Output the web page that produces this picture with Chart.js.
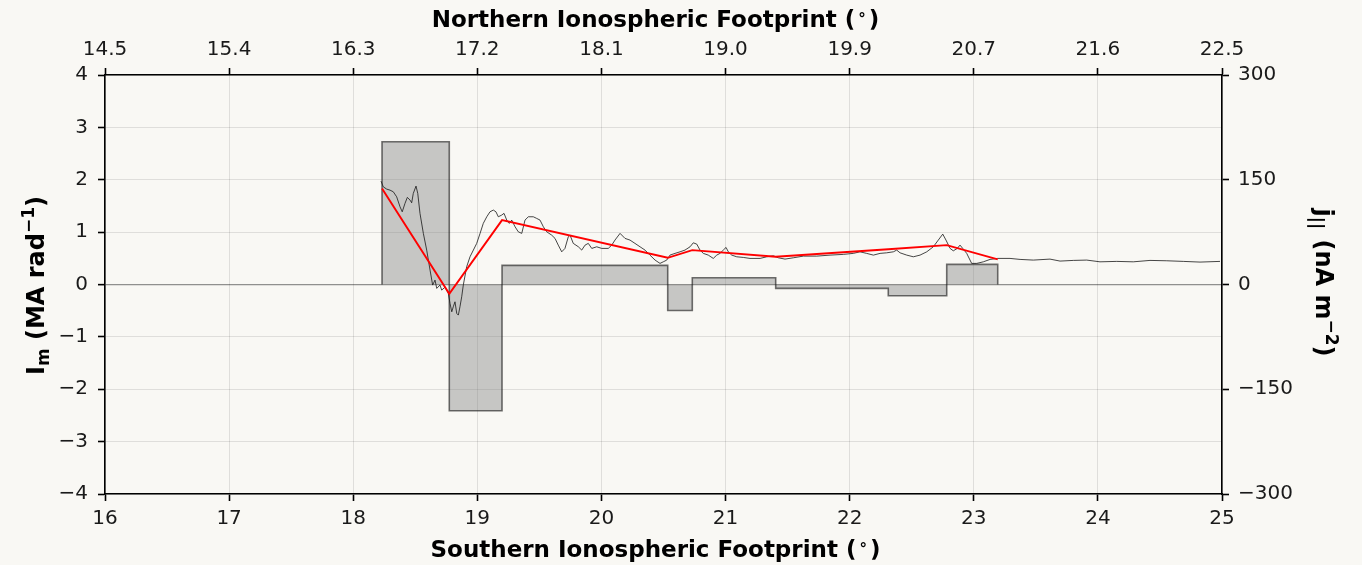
<!DOCTYPE html>
<html>
<head>
<meta charset="utf-8">
<script src="https://cdn.jsdelivr.net/npm/chart.js@4.4.1/dist/chart.umd.min.js"></script>
<style>
  html, body { margin: 0; padding: 0; background: #f9f8f4; }
  canvas { display: block; }
</style>
</head>
<body>
<canvas id="c" width="1362" height="565"></canvas>
<script>
// Southern footprint latitude (deg) of the magnetometer-derived current trace
const southDeg = [
  18.224,18.242,18.270,18.296,18.323,18.350,18.377,18.395,18.417,18.436,
  18.458,18.471,18.484,18.506,18.520,18.538,18.565,18.592,18.619,18.640,
  18.659,18.673,18.699,18.713,18.740,18.766,18.780,18.794,18.806,18.820,
  18.834,18.847,18.860,18.874,18.887,18.914,18.941,18.995,19.022,19.048,
  19.076,19.102,19.129,19.150,19.169,19.196,19.215,19.237,19.258,19.277,
  19.304,19.330,19.358,19.384,19.411,19.451,19.478,19.505,19.532,19.559,
  19.599,19.626,19.652,19.680,19.706,19.733,19.747,19.773,19.814,19.841,
  19.868,19.894,19.922,19.962,20.002,20.055,20.083,20.109,20.150,20.190,
  20.230,20.270,20.311,20.351,20.391,20.432,20.472,20.498,20.526,20.552,
  20.593,20.633,20.673,20.714,20.740,20.768,20.794,20.821,20.861,20.901,
  20.929,20.955,20.982,21.004,21.022,21.050,21.090,21.143,21.197,21.278,
  21.332,21.385,21.425,21.479,21.546,21.627,21.735,21.842,21.949,22.029,
  22.083,22.137,22.191,22.245,22.298,22.352,22.379,22.406,22.460,22.513,
  22.567,22.621,22.674,22.714,22.750,22.776,22.809,22.835,22.867,22.889,
  22.911,22.943,22.983,23.024,23.077,23.131,23.193,23.292,23.373,23.480,
  23.614,23.695,23.802,23.910,24.017,24.152,24.285,24.420,24.555,24.688,
  24.823,24.984
];
// Azimuthal current I_m (MA rad^-1) along the trace
const imTrace = [
  1.974,1.865,1.821,1.802,1.770,1.674,1.484,1.388,1.548,1.663,
  1.611,1.560,1.739,1.879,1.739,1.358,0.976,0.657,0.275,-0.011,
  0.084,-0.074,-0.011,-0.107,-0.050,-0.170,-0.361,-0.521,-0.426,-0.330,
  -0.552,-0.584,-0.426,-0.235,-0.011,0.338,0.529,0.785,0.976,1.167,
  1.293,1.388,1.421,1.388,1.293,1.325,1.358,1.230,1.167,1.230,
  1.102,1.006,0.976,1.230,1.293,1.293,1.262,1.230,1.102,1.006,
  0.943,0.880,0.752,0.624,0.689,0.911,0.943,0.785,0.720,0.657,
  0.752,0.785,0.689,0.720,0.689,0.689,0.752,0.848,0.976,0.880,
  0.848,0.785,0.720,0.657,0.561,0.466,0.403,0.433,0.466,0.561,
  0.594,0.624,0.657,0.720,0.796,0.771,0.657,0.594,0.561,0.498,
  0.561,0.594,0.657,0.708,0.624,0.561,0.529,0.517,0.498,0.498,
  0.529,0.548,0.510,0.485,0.510,0.542,0.542,0.561,0.575,0.594,
  0.624,0.594,0.561,0.594,0.605,0.624,0.657,0.605,0.561,0.529,
  0.561,0.624,0.720,0.848,0.962,0.848,0.689,0.643,0.689,0.752,
  0.689,0.594,0.403,0.403,0.433,0.479,0.498,0.498,0.479,0.466,
  0.485,0.447,0.460,0.466,0.433,0.441,0.433,0.460,0.453,0.441,
  0.428,0.441
];
// Segment boundaries (deg) of the piecewise current model
const barEdges = [18.232, 18.774, 19.199, 20.534, 20.732, 21.404, 22.311, 22.782, 23.193];
// Field-aligned current density j_|| (nA m^-2) in each segment
const jPar = [204.4, -180.8, 27.4, -37.2, 9.6, -5.6, -16.2, 28.8];
// Model I_m (MA rad^-1) at each segment boundary
const imAtEdges = [1.835, -0.178, 1.23, 0.51, 0.657, 0.529, 0.674, 0.752, 0.479];
// Northern footprint labels shown along the top axis
const northTickLabels = ['14.5','15.4','16.3','17.2','18.1','19.0','19.9','20.7','21.6','22.5'];

const FONT = 'DejaVu Sans';
const TICK_FONT = { family: FONT, size: 20 };
const TICK_COLOR = '#1a1a1a';
const GRID = 'rgba(0,0,0,0.1)';
const minusFmt = v => (v < 0 ? '\u2212' + Math.abs(v) : String(v));

// stair outline of the j_|| segments, closed down to zero at both ends
const stairs = [{ x: barEdges[0], y: 0 }];
jPar.forEach((v, i) => {
  stairs.push({ x: barEdges[i], y: v });
  stairs.push({ x: barEdges[i + 1], y: v });
});
stairs.push({ x: barEdges[barEdges.length - 1], y: 0 });

const trace = southDeg.map((x, i) => ({ x, y: imTrace[i] }));
const model = barEdges.map((x, i) => ({ x, y: imAtEdges[i] }));

// figure background
const bgPlugin = {
  id: 'bg',
  beforeDraw(chart) {
    const c = chart.ctx;
    c.save();
    c.fillStyle = '#f9f8f4';
    c.fillRect(0, 0, chart.width, chart.height);
    c.restore();
  }
};

// axis titles drawn as runs of text so sub/superscripts can be placed
function richTitle(ctx, segs, bx, cy, rot) {
  ctx.save();
  ctx.translate(bx, cy);
  ctx.rotate(rot);
  ctx.textBaseline = 'alphabetic';
  ctx.fillStyle = '#000';
  let total = 0;
  segs.forEach(s => { ctx.font = s.f; s.w = ctx.measureText(s.t).width + (s.gap || 0); total += s.w; });
  let x = -total / 2;
  segs.forEach(s => { ctx.font = s.f; ctx.fillText(s.t, x, s.dy || 0); x += s.w; });
  ctx.restore();
}
const titlePlugin = {
  id: 'axisTitles',
  afterDraw(chart) {
    const ctx = chart.ctx;
    const ca = chart.chartArea;
    const cy = (ca.top + ca.bottom) / 2;
    const cx = (ca.left + ca.right) / 2 - 8;
    const big = 'bold 24px "' + FONT + '"';
    const small = 'bold 17px "' + FONT + '"';
    const xt = 'bold 23px "' + FONT + '"';
    const xs = 'bold 15px "' + FONT + '"';
    richTitle(ctx, [
      { t: 'Northern Ionospheric Footprint (', f: xt, gap: 3 },
      { t: '\u00b0', f: xs, dy: -3, gap: 3 },
      { t: ')', f: xt }
    ], cx, 27, 0);
    richTitle(ctx, [
      { t: 'Southern Ionospheric Footprint (', f: xt, gap: 3 },
      { t: '\u00b0', f: xs, dy: -3, gap: 3 },
      { t: ')', f: xt }
    ], cx, 557, 0);
    richTitle(ctx, [
      { t: 'I', f: big },
      { t: 'm', f: small, dy: 5 },
      { t: ' (MA rad', f: big },
      { t: '\u22121', f: small, dy: -10 },
      { t: ')', f: big }
    ], 44, cy + 1, -Math.PI / 2);
    richTitle(ctx, [
      { t: 'j', f: big },
      { t: '||', f: small, dy: 5, gap: 2 },
      { t: ' (nA m', f: big },
      { t: '\u22122', f: small, dy: -10 },
      { t: ')', f: big }
    ], 1316, cy - 2, Math.PI / 2);
  }
};

const axisCommon = {
  border: { display: true, color: '#000', width: 1.6 },
};

new Chart(document.getElementById('c'), {
  type: 'line',
  data: {
    datasets: [
      {
        label: 'model I_m',
        data: model,
        xAxisID: 'x', yAxisID: 'y',
        borderColor: '#ff0000', borderWidth: 1.9,
        pointRadius: 0, tension: 0, fill: false, order: 0
      },
      {
        label: 'I_m',
        data: trace,
        xAxisID: 'x', yAxisID: 'y',
        borderColor: 'rgba(25,25,25,0.8)', borderWidth: 1,
        pointRadius: 0, tension: 0, fill: false, order: 1
      },
      {
        label: 'j_par',
        data: stairs,
        xAxisID: 'x', yAxisID: 'y2',
        borderColor: 'rgba(20,20,20,0.6)', borderWidth: 1.6,
        backgroundColor: 'rgba(128,128,128,0.42)',
        pointRadius: 0, tension: 0, fill: 'origin', order: 2
      }
    ]
  },
  options: {
    responsive: false,
    animation: false,
    events: [],
    layout: { padding: 0 },
    plugins: { legend: { display: false }, tooltip: { enabled: false } },
    scales: {
      x: {
        ...axisCommon,
        type: 'linear', position: 'bottom', min: 16, max: 25,
        ticks: { stepSize: 1, font: TICK_FONT, color: TICK_COLOR, padding: 6, maxRotation: 0, autoSkip: false },
        grid: { color: GRID, lineWidth: 1, tickColor: '#000', tickLength: 7, tickWidth: 1.6 },
        afterFit(s) { s.height = 71; }
      },
      x2: {
        ...axisCommon,
        type: 'linear', position: 'top', min: 16, max: 25,
        ticks: { stepSize: 1, font: TICK_FONT, color: TICK_COLOR, padding: 6, maxRotation: 0, autoSkip: false,
                 callback: (v, i) => northTickLabels[i] },
        grid: { drawOnChartArea: false, tickColor: '#000', tickLength: 7, tickWidth: 1.6 },
        afterFit(s) { s.height = 75; }
      },
      y: {
        ...axisCommon,
        type: 'linear', position: 'left', min: -4, max: 4,
        ticks: { stepSize: 1, font: TICK_FONT, color: TICK_COLOR, padding: 10, callback: minusFmt },
        grid: {
          color: c => (c.tick && c.tick.value === 0 ? 'rgba(0,0,0,0.42)' : GRID),
          lineWidth: c => (c.tick && c.tick.value === 0 ? 1.3 : 1),
          tickColor: '#000', tickLength: 7, tickWidth: 1.6
        },
        afterFit(s) { s.width = 105; }
      },
      y2: {
        ...axisCommon,
        type: 'linear', position: 'right', min: -300, max: 300,
        ticks: { stepSize: 150, font: TICK_FONT, color: TICK_COLOR, padding: 9, callback: minusFmt },
        grid: { drawOnChartArea: false, tickColor: '#000', tickLength: 7, tickWidth: 1.6 },
        afterFit(s) { s.width = 140; }
      }
    }
  },
  plugins: [bgPlugin, titlePlugin]
});
</script>
</body>
</html>
